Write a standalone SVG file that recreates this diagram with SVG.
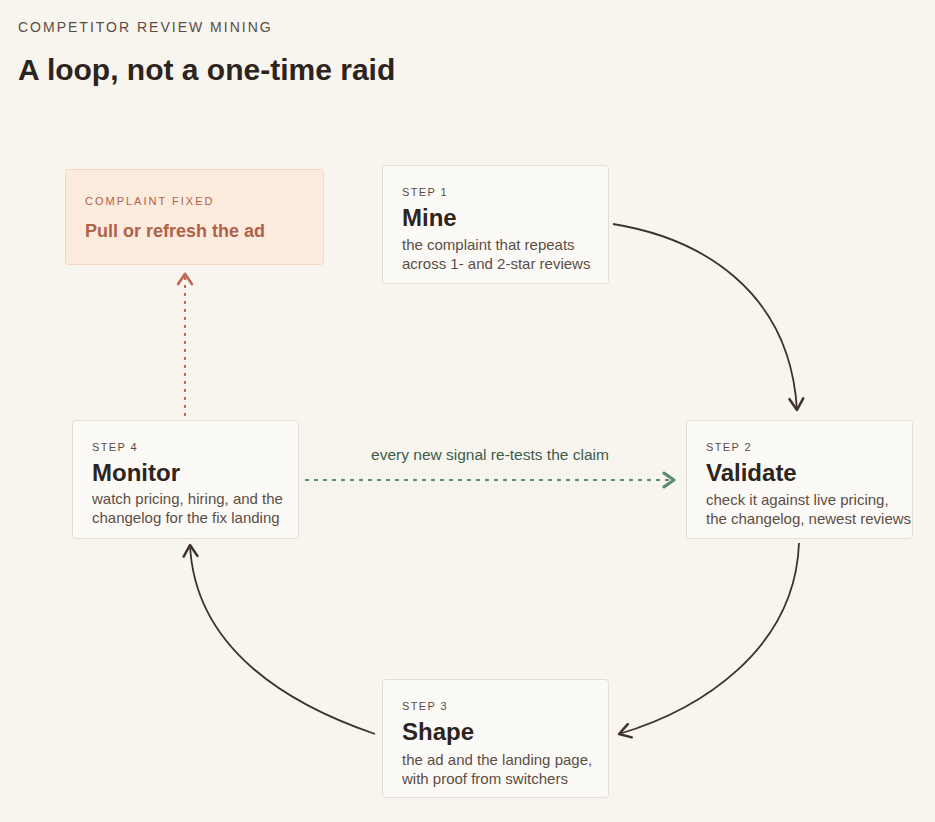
<svg xmlns="http://www.w3.org/2000/svg" width="935" height="822" viewBox="0 0 935 822">
<style>
  .bg{fill:#f8f5ef}
  .card{fill:#fcfaf6;stroke:#e6ddd2;stroke-width:1}
  .fixed{fill:#fdebdd;stroke:#f2d5c2;stroke-width:1}
  text{font-family:"Liberation Sans",Arial,sans-serif}
  .eyebrow{font-size:14px;letter-spacing:2px;fill:#5b4c42}
  .title{font-size:30px;font-weight:700;fill:#2d241e}
  .step{font-size:11px;letter-spacing:1.4px;fill:#5b4c42}
  .name{font-size:24px;font-weight:700;fill:#2d241e}
  .desc{font-size:15px;fill:#5b4e45}
  .fx-label{font-size:11px;letter-spacing:2px;fill:#b0614a}
  .fx-name{font-size:18px;font-weight:700;fill:#b0614a}
  .flow{fill:none;stroke:#3f322b;stroke-width:1.8}
  .green{fill:none;stroke:#5c8c74;stroke-width:1.8;stroke-dasharray:4 5}
  .red{fill:none;stroke:#c06a52;stroke-width:2;stroke-dasharray:3 5}
  .lbl{font-size:15.5px;fill:#3d5c4c}
</style>
<defs>
  <marker id="ah" markerUnits="userSpaceOnUse" markerWidth="20" markerHeight="20" refX="0" refY="0" viewBox="-12 -8 14 16" orient="auto" overflow="visible">
    <path d="M-9,-5.5 L0,0 L-9,5.5" fill="none" stroke="#3f322b" stroke-width="2" stroke-linecap="round" stroke-linejoin="round"/>
  </marker>
  <marker id="ahg" markerUnits="userSpaceOnUse" markerWidth="20" markerHeight="20" refX="0" refY="0" viewBox="-12 -8 14 16" orient="auto" overflow="visible">
    <path d="M-8,-5.5 L0,0 L-8,5.5" fill="none" stroke="#5c8c74" stroke-width="2.6" stroke-linecap="round" stroke-linejoin="round"/>
  </marker>
  <marker id="ahr" markerUnits="userSpaceOnUse" markerWidth="20" markerHeight="20" refX="0" refY="0" viewBox="-12 -8 14 16" orient="auto" overflow="visible">
    <path d="M-8,-5.5 L0,0 L-8,5.5" fill="none" stroke="#c06a52" stroke-width="2.2" stroke-linecap="round" stroke-linejoin="round"/>
  </marker>
</defs>
<rect class="bg" x="0" y="0" width="935" height="822"/>
<g id="header">
  <text class="eyebrow" x="18" y="32">COMPETITOR REVIEW MINING</text>
  <text class="title" x="18" y="80">A loop, not a one-time raid</text>
</g>
<g id="connectors">
  <path class="flow" d="M613,224 C700,238 790,290 797,410" marker-end="url(#ah)"/>
  <path class="flow" d="M799,543 C795,650 700,710 619,734" marker-end="url(#ah)"/>
  <path class="flow" d="M375,734 C290,705 195,650 190,545" marker-end="url(#ah)"/>
  <path class="red" d="M185,416 L185,274" marker-end="url(#ahr)"/>
  <path class="green" d="M305,480 L674,480" marker-end="url(#ahg)"/>
  <text class="lbl" x="490" y="460" text-anchor="middle">every new signal re-tests the claim</text>
</g>
<g id="complaint-fixed">
  <rect class="fixed" x="65.5" y="169.5" width="258" height="95" rx="3"/>
  <text class="fx-label" x="85" y="205">COMPLAINT FIXED</text>
  <text class="fx-name" x="85" y="237">Pull or refresh the ad</text>
</g>
<g id="step1">
  <rect class="card" x="382.5" y="165.5" width="226" height="118" rx="3"/>
  <text class="step" x="402" y="196">STEP 1</text>
  <text class="name" x="402" y="226">Mine</text>
  <text class="desc" x="402" y="250">the complaint that repeats</text>
  <text class="desc" x="402" y="269">across 1- and 2-star reviews</text>
</g>
<g id="step2">
  <rect class="card" x="686.5" y="420.5" width="226" height="118" rx="3"/>
  <text class="step" x="706" y="451">STEP 2</text>
  <text class="name" x="706" y="481">Validate</text>
  <text class="desc" x="706" y="505">check it against live pricing,</text>
  <text class="desc" x="706" y="524">the changelog, newest reviews</text>
</g>
<g id="step3">
  <rect class="card" x="382.5" y="679.5" width="226" height="118" rx="3"/>
  <text class="step" x="402" y="710">STEP 3</text>
  <text class="name" x="402" y="740">Shape</text>
  <text class="desc" x="402" y="765">the ad and the landing page,</text>
  <text class="desc" x="402" y="784">with proof from switchers</text>
</g>
<g id="step4">
  <rect class="card" x="72.5" y="420.5" width="226" height="118" rx="3"/>
  <text class="step" x="92" y="451">STEP 4</text>
  <text class="name" x="92" y="481">Monitor</text>
  <text class="desc" x="92" y="504">watch pricing, hiring, and the</text>
  <text class="desc" x="92" y="523">changelog for the fix landing</text>
</g>
</svg>
